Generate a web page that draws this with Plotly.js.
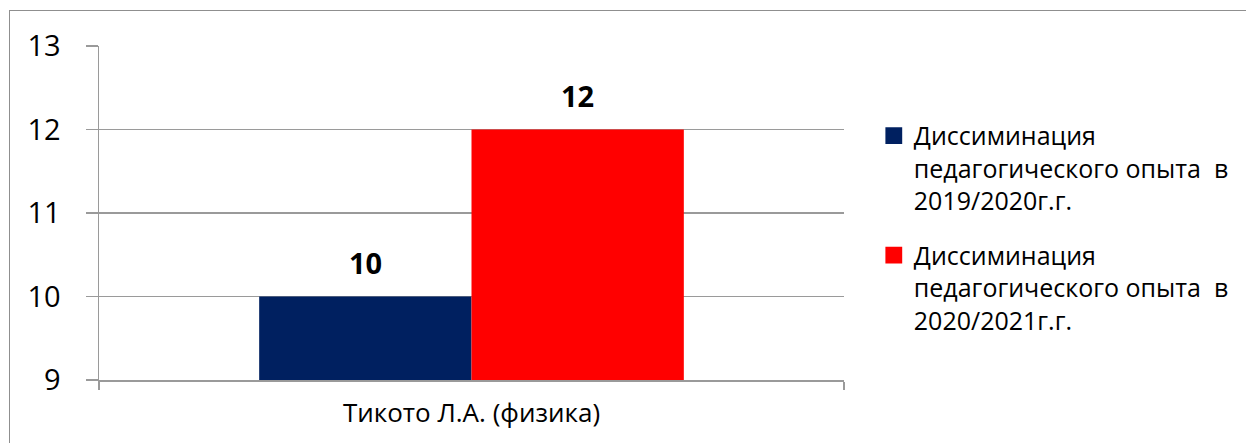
<!DOCTYPE html>
<html><head><meta charset="utf-8">
<script src="https://cdn.plot.ly/plotly-3.0.1.min.js"></script>
<style>
html,body{margin:0;padding:0;background:#fff;overflow:hidden}
#chart{position:absolute;left:0;top:0;width:1246px;height:443px}
#frame{position:absolute;left:9px;top:10px;width:1300px;height:500px;border-left:1px solid #8f8f8f;border-top:1px solid #8f8f8f;pointer-events:none}
</style></head><body>
<div id="chart"></div><div id="frame"></div>
<script>
const categories = ["Тикото Л.А. (физика)"];
const seriesNames = [
  "Диссиминация<br>педагогического опыта \u00a0в<br>2019/2020г.г.",
  "Диссиминация<br>педагогического опыта \u00a0в<br>2020/2021г.г."
];
const values2019 = [10];
const values2020 = [12];
const seriesColors = ["#002060", "#ff0000"];
const yTicks = [9, 10, 11, 12, 13];

const FONT = "Open Sans, Noto Sans, sans-serif";
const bargap = 0.43;
const allSeries = [values2019, values2020];

const traces = allSeries.map((vals, j) => ({
  type: "bar",
  x: categories,
  y: vals,
  name: seriesNames[j],
  legendgroup: "g" + j,
  marker: {color: seriesColors[j], line: {width: 0}},
  hoverinfo: "skip"
}));

const annotations = [];
const n = allSeries.length;
allSeries.forEach((vals, j) => {
  vals.forEach((v, i) => {
    annotations.push({
      xref: "x", yref: "y",
      x: i + (j - (n - 1) / 2) * (1 - bargap) / n,
      y: v, yshift: 34,
      text: "<b>" + v + "</b>",
      showarrow: false,
      font: {family: FONT, size: 29, color: "#000"},
      xanchor: "center", yanchor: "middle"
    });
  });
});

const layout = {
  width: 1246, height: 443,
  margin: {l: 99, r: 399, t: 46, b: 63, pad: 0},
  paper_bgcolor: "#ffffff",
  plot_bgcolor: "#ffffff",
  barmode: "group",
  bargap: bargap,
  bargroupgap: 0,
  showlegend: true,
  font: {family: FONT, color: "#000"},
  xaxis: {
    type: "category",
    showgrid: false,
    showline: true, linecolor: "#9a9a9a", linewidth: 1.5,
    ticks: "outside", tickson: "boundaries", ticklen: 8, tickcolor: "#9a9a9a", tickwidth: 1.5,
    tickfont: {family: FONT, size: 26, color: "#000"},
    ticklabelstandoff: 9,
    zeroline: false, fixedrange: true
  },
  yaxis: {
    range: [9, 13],
    tickvals: yTicks,
    ticktext: yTicks.map(String),
    showgrid: true, gridcolor: "#9a9a9a", gridwidth: 1.5,
    showline: true, linecolor: "#9a9a9a", linewidth: 1.5,
    ticks: "outside", ticklen: 12, tickcolor: "#9a9a9a", tickwidth: 1.5,
    tickfont: {family: FONT, size: 29, color: "#000"},
    ticklabelstandoff: 19,
    zeroline: false, fixedrange: true
  },
  legend: {
    x: 1.04, xanchor: "left",
    y: 0.80, yanchor: "top",
    valign: "top",
    traceorder: "grouped",
    tracegroupgap: 19,
    font: {family: FONT, size: 25, color: "#000"},
    bgcolor: "rgba(0,0,0,0)",
    borderwidth: 0
  },
  annotations: annotations
};

Plotly.newPlot("chart", traces, layout, {staticPlot: true, displayModeBar: false}).then(() => {
  document.querySelectorAll("#chart .legendpoints path").forEach(p => {
    const t = p.getAttribute("transform") || "";
    p.setAttribute("transform", t + " scale(1.4)");
  });
});
</script>
</body></html>
